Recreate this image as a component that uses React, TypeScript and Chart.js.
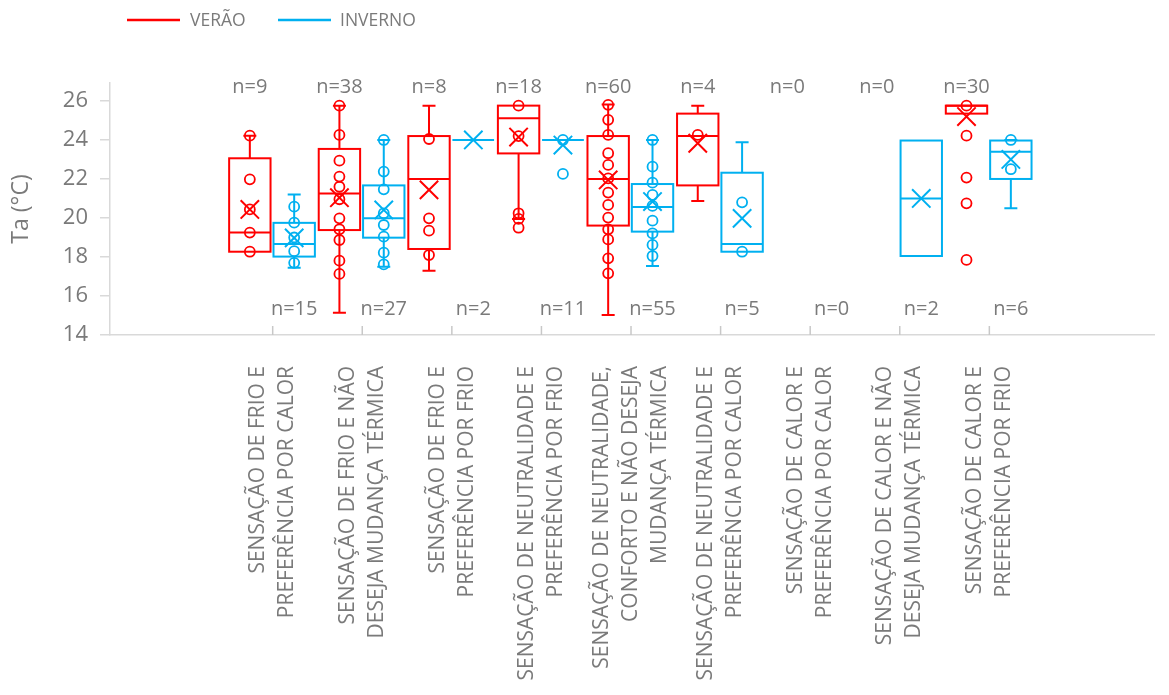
import React, { useEffect, useRef } from 'react';
import { Chart, registerables } from 'chart.js';

Chart.register(...registerables);

// ---------- DATA ----------
const categories: string[][] = [
  ['SENSAÇÃO DE FRIO E', 'PREFERÊNCIA POR CALOR'],
  ['SENSAÇÃO DE FRIO E NÃO', 'DESEJA MUDANÇA TÉRMICA'],
  ['SENSAÇÃO DE FRIO E', 'PREFERÊNCIA POR FRIO'],
  ['SENSAÇÃO DE NEUTRALIDADE E', 'PREFERÊNCIA POR FRIO'],
  ['SENSAÇÃO DE NEUTRALIDADE,', 'CONFORTO E NÃO DESEJA', 'MUDANÇA TÉRMICA'],
  ['SENSAÇÃO DE NEUTRALIDADE E', 'PREFERÊNCIA POR CALOR'],
  ['SENSAÇÃO DE CALOR E', 'PREFERÊNCIA POR CALOR'],
  ['SENSAÇÃO DE CALOR E NÃO', 'DESEJA MUDANÇA TÉRMICA'],
  ['SENSAÇÃO DE CALOR E', 'PREFERÊNCIA POR FRIO'],
];

const yTicks = [14, 16, 18, 20, 22, 24, 26];

// Verão (summer)
const verN = [9, 38, 8, 18, 60, 4, 0, 0, 30];
const verMin = [18.27, 15.14, 17.3, 19.95, 15.03, 20.87, null, null, 25.35];
const verQ1 = [18.27, 19.38, 18.41, 23.31, 19.61, 21.67, null, null, 25.35];
const verMed = [19.25, 21.26, 22.0, 25.11, 22.0, 24.2, null, null, 25.76];
const verQ3 = [23.06, 23.54, 24.2, 25.76, 24.2, 25.35, null, null, 25.76];
const verMax = [24.22, 25.76, 25.76, 25.76, 25.82, 25.76, null, null, 25.76];
const verMean = [20.44, 21.04, 21.44, 24.15, 21.95, 23.83, null, null, 25.2];
const verPoints: number[][] = [
  [24.22, 21.98, 20.44, 19.25, 18.27],
  [25.76, 24.26, 22.94, 22.12, 21.6, 20.96, 19.98, 19.42, 18.87, 17.81, 17.13],
  [24.05, 19.98, 19.35, 18.1],
  [25.76, 24.2, 20.24, 19.95, 19.5],
  [25.8, 25.03, 24.26, 23.32, 22.72, 22.03, 21.3, 20.67, 20.02, 19.42, 18.9, 17.93, 17.16],
  [24.26],
  [],
  [],
  [25.76, 24.22, 22.07, 20.75, 17.85],
];

// Inverno (winter)
const invN = [15, 27, 2, 11, 55, 5, 0, 2, 6];
const invMin = [17.45, 17.5, 24.0, 24.0, 17.54, 18.27, null, 18.05, 20.5];
const invQ1 = [18.02, 18.99, 24.0, 24.0, 19.3, 18.27, null, 18.05, 22.0];
const invMed = [18.66, 19.98, 24.0, 24.0, 20.56, 18.67, null, 21.0, 23.4];
const invQ3 = [19.75, 21.67, 24.0, 24.0, 21.74, 22.32, null, 23.97, 23.97];
const invMax = [21.2, 24.0, 24.0, 24.0, 24.0, 23.88, null, 23.97, 24.0];
const invMean = [18.98, 20.41, 24.0, 23.74, 20.84, 19.98, null, 21.0, 23.0];
const invPoints: number[][] = [
  [20.58, 19.76, 19.0, 18.3, 17.7],
  [24.0, 22.38, 21.47, 20.24, 19.64, 19.04, 18.22, 17.62],
  [],
  [24.0, 22.26],
  [24.0, 22.63, 21.81, 21.18, 20.62, 19.86, 19.21, 18.62, 18.05],
  [20.8, 18.27],
  [],
  [],
  [24.0, 22.5],
];

// ---------- LAYOUT / STYLE ----------
const W = 1169;
const H = 695;
const X_MIN = -1.816;
const X_MAX = 9.838;
const Y_MIN = 14;
const Y_MAX = 26.92;
const VER_OFF = -0.255;
const INV_OFF = 0.24;
const BOX_W = 0.462;
const N_TOP = 26.72;
const N_BOTTOM = 15.33;
const LABEL_FONT = 21;
const LABEL_LH = 29;
const CHART_LEFT = 110;
const PX_PER_UNIT = (W - CHART_LEFT) / (X_MAX - X_MIN);
const RED = '#FF0000';
const BLUE = '#00B0F0';
const GRAY_TXT = '#7a7a7a';
const AXIS = '#d9d9d9';
const FONT = "'Open Sans', sans-serif";

const SERIES = [
  { name: 'VERÃO', color: RED, off: VER_OFF, n: verN, min: verMin, q1: verQ1, med: verMed, q3: verQ3, max: verMax, nRow: N_TOP },
  { name: 'INVERNO', color: BLUE, off: INV_OFF, n: invN, min: invMin, q1: invQ1, med: invMed, q3: invQ3, max: invMax, nRow: N_BOTTOM },
];

const pointData = (pts: number[][], off: number) =>
  pts.flatMap((arr, i) => arr.map((v) => ({ x: i + off, y: v })));
const meanData = (means: (number | null)[], off: number) =>
  means.flatMap((v, i) => (v == null ? [] : [{ x: i + off, y: v }]));

const boxPlugin = {
  id: 'boxplot',
  beforeDatasetsDraw(chart: any) {
    const { ctx } = chart;
    const x = chart.scales.x;
    const y = chart.scales.y;
    ctx.save();
    // inward category tick marks
    ctx.strokeStyle = '#c8c8c8';
    ctx.lineWidth = 1.5;
    categories.forEach((_, i) => {
      const px = x.getPixelForValue(i);
      ctx.beginPath();
      ctx.moveTo(px, y.bottom);
      ctx.lineTo(px, y.bottom - 9);
      ctx.stroke();
    });
    SERIES.forEach((s) => {
      s.q1.forEach((q1, i) => {
        if (q1 == null) return;
        const cx = x.getPixelForValue(i + s.off);
        const hw = (x.getPixelForValue(BOX_W) - x.getPixelForValue(0)) / 2;
        const yq1 = y.getPixelForValue(q1);
        const yq3 = y.getPixelForValue(s.q3[i] as number);
        const ymed = y.getPixelForValue(s.med[i] as number);
        const ymin = y.getPixelForValue(s.min[i] as number);
        const ymax = y.getPixelForValue(s.max[i] as number);
        const cap = 6.5;
        ctx.strokeStyle = s.color;
        ctx.lineWidth = 2;
        ctx.strokeRect(cx - hw, yq3, 2 * hw, yq1 - yq3);
        ctx.beginPath();
        ctx.moveTo(cx - hw, ymed);
        ctx.lineTo(cx + hw, ymed);
        if ((s.max[i] as number) > (s.q3[i] as number)) {
          ctx.moveTo(cx, yq3);
          ctx.lineTo(cx, ymax);
          ctx.moveTo(cx - cap, ymax);
          ctx.lineTo(cx + cap, ymax);
        }
        if ((s.min[i] as number) < q1) {
          ctx.moveTo(cx, yq1);
          ctx.lineTo(cx, ymin);
          ctx.moveTo(cx - cap, ymin);
          ctx.lineTo(cx + cap, ymin);
        }
        ctx.stroke();
      });
    });
    ctx.restore();
  },
  afterDraw(chart: any) {
    const { ctx } = chart;
    const x = chart.scales.x;
    const y = chart.scales.y;
    ctx.save();
    // n labels
    ctx.fillStyle = GRAY_TXT;
    ctx.font = `20px ${FONT}`;
    ctx.textAlign = 'center';
    ctx.textBaseline = 'middle';
    SERIES.forEach((s) => {
      s.n.forEach((n, i) => {
        ctx.fillText(`n=${n}`, x.getPixelForValue(i + s.off), y.getPixelForValue(s.nRow));
      });
    });
    // legend
    const legendItems = [
      { s: SERIES[0], lx: 127, tx: 190 },
      { s: SERIES[1], lx: 278, tx: 340 },
    ];
    ctx.font = `17.5px ${FONT}`;
    ctx.textAlign = 'left';
    legendItems.forEach(({ s, lx, tx }) => {
      ctx.strokeStyle = s.color;
      ctx.lineWidth = 2.5;
      ctx.beginPath();
      ctx.moveTo(lx, 20);
      ctx.lineTo(lx + 53, 20);
      ctx.stroke();
      ctx.fillStyle = GRAY_TXT;
      ctx.fillText(s.name, tx, 21);
    });
    ctx.restore();
  },
};

export default function App() {
  const ref = useRef<HTMLCanvasElement>(null);
  useEffect(() => {
    document.body.style.margin = '0';
    document.documentElement.style.overflow = 'hidden';
    Chart.defaults.font.family = FONT;
    const chart = new Chart(ref.current as HTMLCanvasElement, {
      type: 'scatter',
      data: {
        datasets: [
          {
            label: 'VERÃO pontos',
            data: pointData(verPoints, VER_OFF),
            pointStyle: 'circle',
            pointRadius: 5,
            borderWidth: 1.8,
            borderColor: RED,
            backgroundColor: 'rgba(0,0,0,0)',
          },
          {
            label: 'VERÃO média',
            data: meanData(verMean, VER_OFF),
            pointStyle: 'crossRot',
            pointRadius: 13,
            borderWidth: 2,
            borderColor: RED,
            backgroundColor: 'rgba(0,0,0,0)',
          },
          {
            label: 'INVERNO pontos',
            data: pointData(invPoints, INV_OFF),
            pointStyle: 'circle',
            pointRadius: 5,
            borderWidth: 1.8,
            borderColor: BLUE,
            backgroundColor: 'rgba(0,0,0,0)',
          },
          {
            label: 'INVERNO média',
            data: meanData(invMean, INV_OFF),
            pointStyle: 'crossRot',
            pointRadius: 13,
            borderWidth: 2,
            borderColor: BLUE,
            backgroundColor: 'rgba(0,0,0,0)',
          },
        ],
      },
      options: {
        animation: false,
        responsive: false,
        devicePixelRatio: 1,
        layout: { padding: { top: 83, left: 0, right: -5, bottom: 0 } },
        plugins: {
          legend: { display: false },
          tooltip: { enabled: false },
        },
        scales: {
          x: {
            type: 'linear',
            min: X_MIN,
            max: X_MAX,
            afterBuildTicks: (s: any) => {
              s.ticks = categories.map((lab, i) => ({
                value: i - ((lab.length - 1) * LABEL_LH) / 2 / PX_PER_UNIT,
              }));
            },
            afterFit: (s: any) => {
              s.height = H - 335;
              s.paddingLeft = 0;
              s.paddingRight = 0;
            },
            grid: { display: false, drawTicks: false },
            border: { display: true, color: AXIS, width: 1.5 },
            ticks: {
              autoSkip: false,
              minRotation: 90,
              maxRotation: 90,
              padding: 31,
              color: GRAY_TXT,
              font: { size: LABEL_FONT, lineHeight: LABEL_LH / LABEL_FONT },
              callback: (_v: any, i: number) => categories[i],
            },
          },
          y: {
            type: 'linear',
            min: Y_MIN,
            max: Y_MAX,
            afterBuildTicks: (s: any) => {
              s.ticks = yTicks.map((v) => ({ value: v }));
            },
            afterFit: (s: any) => {
              s.width = CHART_LEFT;
              s.paddingTop = 0;
              s.paddingBottom = 0;
            },
            grid: {
              display: true,
              drawOnChartArea: false,
              drawTicks: true,
              tickLength: 10,
              color: AXIS,
              lineWidth: 1.5,
            },
            border: { display: true, color: AXIS, width: 1.5 },
            ticks: {
              color: GRAY_TXT,
              font: { size: 22 },
              padding: 12,
              callback: (v: any) => String(v),
            },
            title: {
              display: true,
              text: 'Ta (°C)',
              color: GRAY_TXT,
              font: { size: 23 },
              padding: { top: 8, bottom: 0 },
            },
          },
        },
      } as any,
      plugins: [boxPlugin],
    });
    return () => chart.destroy();
  }, []);
  return (
    <canvas
      ref={ref}
      width={W}
      height={H}
      style={{ display: 'block', width: W, height: H }}
    />
  );
}
